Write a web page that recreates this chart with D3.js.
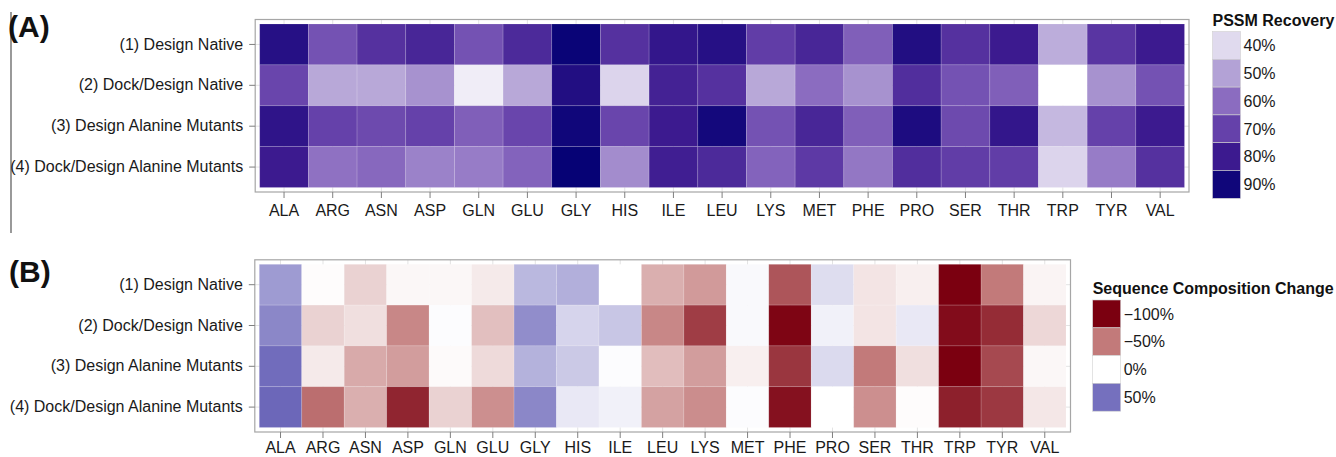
<!DOCTYPE html>
<html>
<head>
<meta charset="utf-8">
<script src="https://cdn.jsdelivr.net/npm/d3@7/dist/d3.min.js"></script>
<style>
  html, body { margin: 0; padding: 0; background: #fff; }
  svg { display: block; font-family: "Liberation Sans", Arial, Helvetica, sans-serif; }
  .axis text { font-size: 16px; fill: #1a1a1a; }
  .axis line { stroke: #7f7f7f; }
  .axis path { display: none; }
</style>
</head>
<body>
<svg id="chart" width="1336" height="457"></svg>
<script>
// Amino acid residues (columns) and design protocols (rows)
const residues = ["ALA","ARG","ASN","ASP","GLN","GLU","GLY","HIS","ILE","LEU",
                  "LYS","MET","PHE","PRO","SER","THR","TRP","TYR","VAL"];
const protocols = ["(1) Design Native", "(2) Dock/Design Native",
                   "(3) Design Alanine Mutants", "(4) Dock/Design Alanine Mutants"];

// (A) PSSM recovery per protocol, one value per residue
const pssmDesignNative      = [0.85,0.66,0.74,0.77,0.66,0.76,0.92,0.74,0.82,0.85,0.71,0.77,0.63,0.86,0.74,0.80,0.48,0.73,0.80];
const pssmDockDesignNative  = [0.69,0.49,0.49,0.53,0.37,0.49,0.86,0.41,0.78,0.74,0.49,0.60,0.53,0.75,0.66,0.63,0.34,0.53,0.66];
const pssmDesignAlaMutants  = [0.83,0.70,0.68,0.70,0.63,0.69,0.90,0.69,0.80,0.89,0.66,0.77,0.63,0.87,0.68,0.82,0.46,0.70,0.80];
const pssmDockDesignAlaMut  = [0.80,0.59,0.61,0.56,0.57,0.62,0.93,0.54,0.79,0.76,0.62,0.72,0.58,0.75,0.71,0.71,0.41,0.57,0.74];

// (B) Sequence composition change per protocol, one value per residue
const compDesignNative      = [0.35,-0.01,-0.17,-0.03,-0.03,-0.08,0.25,0.28,0.00,-0.30,-0.38,0.02,-0.65,0.12,-0.10,-0.06,-1.00,-0.50,-0.04];
const compDockDesignNative  = [0.42,-0.17,-0.12,-0.45,0.01,-0.24,0.40,0.15,0.20,-0.45,-0.75,0.02,-0.98,0.05,-0.10,0.08,-0.95,-0.82,-0.15];
const compDesignAlaMutants  = [0.52,-0.08,-0.32,-0.37,-0.02,-0.14,0.27,0.19,0.01,-0.25,-0.37,-0.06,-0.78,0.13,-0.50,-0.12,-1.00,-0.70,-0.03];
const compDockDesignAlaMut  = [0.55,-0.55,-0.30,-0.85,-0.17,-0.42,0.42,0.08,0.05,-0.35,-0.43,0.01,-0.93,0.00,-0.42,-0.01,-0.87,-0.77,-0.09];

// Legend tick labels
const pssmLegendValues = [0.4, 0.5, 0.6, 0.7, 0.8, 0.9];
const pssmLegendLabels = ["40%", "50%", "60%", "70%", "80%", "90%"];
const compLegendValues = [-1.0, -0.5, 0, 0.5];
const compLegendLabels = ["\u2212100%", "\u221250%", "0%", "50%"];

const pssmRows = [pssmDesignNative, pssmDockDesignNative, pssmDesignAlaMutants, pssmDockDesignAlaMut];
const compRows = [compDesignNative, compDockDesignNative, compDesignAlaMutants, compDockDesignAlaMut];

// Colour scales
const pssmColor = d3.scaleLinear()
  .domain([0.34, 0.4, 0.5, 0.6, 0.7, 0.8, 0.9, 0.95])
  .range(["#ffffff", "#e0daee", "#b3a2d6", "#8b6cc0", "#6541aa", "#3c1a8f", "#10067a", "#000072"])
  .clamp(true);

const compColor = d3.scaleLinear()
  .domain([-1.0, -0.5, 0, 0.5, 1.0])
  .range(["#7b0010", "#c27a7a", "#ffffff", "#7570be", "#1a1689"])
  .clamp(true);

const svg = d3.select("#chart");

// Thin gray rule down the left side of panel (A)
svg.append("line")
  .attr("x1", 11).attr("x2", 11).attr("y1", 12).attr("y2", 233)
  .attr("stroke", "#808080").attr("stroke-width", 1.6);

function drawHeatmap(cfg) {
  const g = svg.append("g");
  const pad = 4.5;
  const x = d3.scaleBand().domain(residues).range([cfg.x0, cfg.x1]);
  const y = d3.scaleBand().domain(protocols).range([cfg.y0, cfg.y1]);

  const left = cfg.x0 - pad, right = cfg.x1 + pad, top = cfg.y0 - pad, bottom = cfg.y1 + pad;

  // panel background and grid
  g.append("rect").attr("x", left).attr("y", top)
    .attr("width", right - left).attr("height", bottom - top).attr("fill", "#ffffff");
  g.selectAll(".vgrid").data(residues).join("line")
    .attr("x1", d => x(d) + x.bandwidth() / 2).attr("x2", d => x(d) + x.bandwidth() / 2)
    .attr("y1", top).attr("y2", bottom).attr("stroke", "#e3e3e3").attr("stroke-width", 1);
  g.selectAll(".hgrid").data(protocols).join("line")
    .attr("y1", d => y(d) + y.bandwidth() / 2).attr("y2", d => y(d) + y.bandwidth() / 2)
    .attr("x1", left).attr("x2", right).attr("stroke", "#e3e3e3").attr("stroke-width", 1);

  // cells
  const cells = [];
  cfg.rows.forEach((vals, ri) => vals.forEach((v, ci) =>
    cells.push({ row: protocols[ri], col: residues[ci], v })));
  g.selectAll(".cell").data(cells).join("rect")
    .attr("x", d => x(d.col)).attr("y", d => y(d.row))
    .attr("width", x.bandwidth()).attr("height", y.bandwidth())
    .attr("fill", d => cfg.color(d.v))
    .attr("stroke", "rgba(255,255,255,0.18)").attr("stroke-width", 0.8);

  // panel border
  g.append("rect").attr("x", left).attr("y", top)
    .attr("width", right - left).attr("height", bottom - top)
    .attr("fill", "none").attr("stroke", "#a6a6a6").attr("stroke-width", 1.2);

  // axes
  g.append("g").attr("class", "axis").attr("transform", `translate(${left},0)`)
    .call(d3.axisLeft(y).tickSize(6).tickPadding(6));
  g.append("g").attr("class", "axis").attr("transform", `translate(0,${bottom})`)
    .call(d3.axisBottom(x).tickSize(6).tickPadding(cfg.xPad));

  // panel tag
  svg.append("text").attr("x", cfg.tagX).attr("y", cfg.tagY)
    .attr("font-size", 30).attr("font-weight", "bold").attr("fill", "#111")
    .text(cfg.tag);

  // legend
  const lg = svg.append("g").attr("transform", `translate(${cfg.legX},${cfg.legY})`);
  lg.append("text").attr("x", 0).attr("y", -6)
    .attr("font-size", 16).attr("font-weight", "bold").attr("fill", "#111")
    .text(cfg.legTitle);
  const sw = 28, sh = 27.8;
  const items = cfg.legValues.map((v, i) => ({ v, label: cfg.legLabels[i], i }));
  lg.selectAll(".sw").data(items).join("rect")
    .attr("x", 0).attr("y", d => d.i * sh).attr("width", sw).attr("height", sh)
    .attr("fill", d => cfg.color(d.v)).attr("stroke", "#d0d0d0").attr("stroke-width", 0.6);
  lg.selectAll(".lbl").data(items).join("text")
    .attr("x", sw + 3).attr("y", d => d.i * sh + sh / 2).attr("dy", "0.36em")
    .attr("font-size", 16).attr("fill", "#1a1a1a")
    .text(d => d.label);
}

drawHeatmap({
  rows: pssmRows, color: pssmColor,
  x0: 259.7, x1: 1184.5, y0: 24, y1: 187.5, xPad: 6.3,
  tag: "(A)", tagX: 8, tagY: 37,
  legX: 1212.5, legY: 31.5, legTitle: "PSSM Recovery",
  legValues: pssmLegendValues, legLabels: pssmLegendLabels
});

drawHeatmap({
  rows: compRows, color: compColor,
  x0: 259.3, x1: 1066, y0: 264.3, y1: 427.5, xPad: 3.8,
  tag: "(B)", tagX: 9, tagY: 282,
  legX: 1092.7, legY: 300, legTitle: "Sequence Composition Change",
  legValues: compLegendValues, legLabels: compLegendLabels
});
</script>
</body>
</html>
